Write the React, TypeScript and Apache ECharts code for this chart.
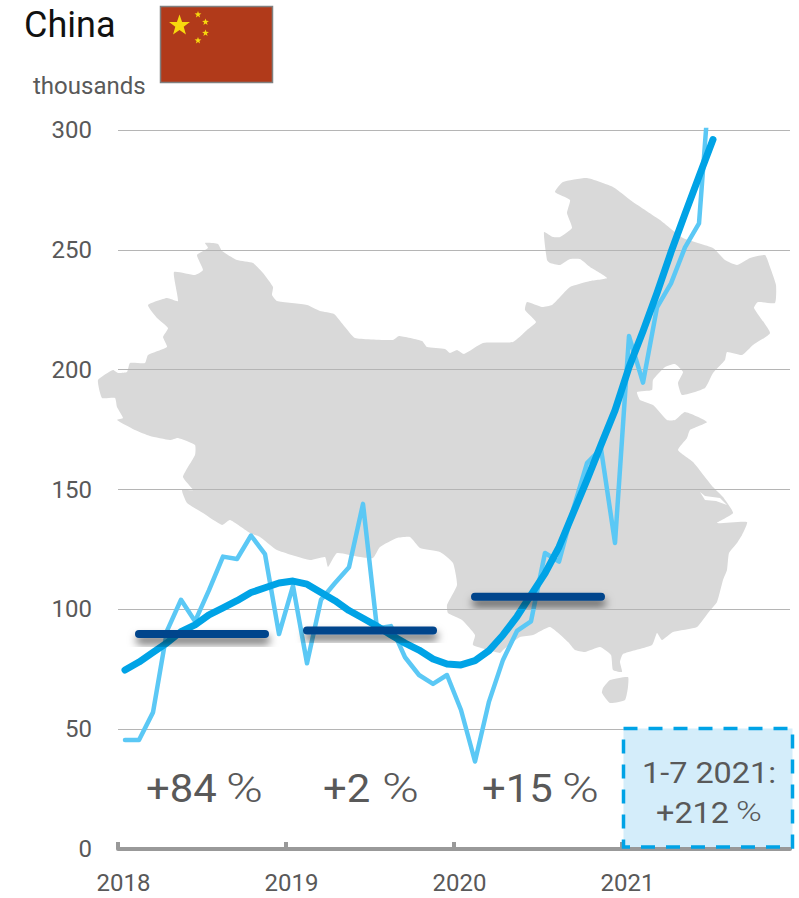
import React, { useEffect, useRef } from "react";
import * as echarts from "echarts";

const months: string[] = [
  "2018-01","2018-02","2018-03","2018-04","2018-05","2018-06","2018-07","2018-08","2018-09","2018-10","2018-11","2018-12",
  "2019-01","2019-02","2019-03","2019-04","2019-05","2019-06","2019-07","2019-08","2019-09","2019-10","2019-11","2019-12",
  "2020-01","2020-02","2020-03","2020-04","2020-05","2020-06","2020-07","2020-08","2020-09","2020-10","2020-11","2020-12",
  "2021-01","2021-02","2021-03","2021-04","2021-05","2021-06","2021-07","2021-08","2021-09","2021-10","2021-11","2021-12",
];
const monthly: number[] = [
  45.5,45.5,57,91,104,95,108,122,121,130.8,123,89.7,
  109.8,77.5,104,111,117.6,144,92,93,80,72.6,68.9,72.6,
  58,36.5,61.5,78.9,91,95,123.5,119.9,141.5,161,167,127.7,
  214,194.6,226,236,251,261,339,
];
const trend: number[] = [
  74.7,78,82,86,90.7,93.5,97.7,100.6,103.6,107,109,111,
  111.8,110.5,107,103.6,99.5,96.3,93,89.3,85.9,83,79.3,77.2,
  76.8,78.6,82.8,89.3,97,106,115,126,140,154,168.6,183,
  201,216,232,249,265,280.6,296,
];
// [first month index, last month index, yearly average]
const yearlyAverages: number[][] = [
  [1, 10, 89.7],
  [13, 22, 91.2],
  [25, 34, 105.2],
];

const yTicks = { min: 0, max: 300, interval: 50 };
const growth = [
  { value: "+84", x: 146, pct: 226 },
  { value: "+2", x: 323, pct: 382 },
  { value: "+15", x: 482, pct: 562 },
];

const mainland: number[][] = [
  [205,243],[218,244],[222,251],[237,260],[253,263],[263,273],[273,287],[272,295],[277,301],[307,305],[320,311],[334,314],
  [345,327],[355,338],[393,340],[399,336],[422,341],[427,347],[445,349],[450,353],[457,350],[464,354],[483,343],[513,342],
  [527,330],[536,322],[525,310],[527,302],[542,307],[552,305],[560,297],[570,287],[590,281],[607,278],[590,267],[580,259],
  [570,259],[560,265],[550,263],[547,260],[544,232],[553,237],[560,237],[572,228],[567,213],[570,200],[555,192],[563,182],
  [587,178],[613,187],[633,202],[660,220],[683,238],[713,248],[725,260],[737,265],[750,258],[765,255],[770,267],[776,285],
  [775,303],[758,302],[754,308],[770,333],[753,345],[742,355],[727,352],[725,360],[713,373],[705,388],[682,395],[678,383],
  [683,372],[675,364],[665,367],[653,380],[652,390],[637,392],[640,400],[653,405],[667,420],[675,420],[685,412],[707,422],
  [690,430],[687,438],[678,450],[693,462],[713,487],[723,497],[733,513],[717,523],[747,522],[742,535],[737,543],
  [729,553],[727,570],[723,580],[717,602],[708,613],[697,627],[673,632],[662,640],[657,633],[652,645],[623,654],[620,662],
  [622,672],[613,670],[611,655],[600,647],[585,652],[575,650],[568,642],[550,627],[533,635],[520,637],[503,650],[500,653],
  [473,645],[475,635],[462,620],[448,613],[447,605],[457,585],[453,563],[440,552],[420,548],[410,537],[397,538],[380,547],
  [373,558],[360,557],[337,553],[328,567],[325,557],[310,560],[277,550],[260,537],[250,533],[230,520],[222,525],[203,513],
  [187,503],[182,490],[193,490],[183,477],[195,455],[195,445],[178,438],[170,440],[150,436],[135,430],[117,420],[123,418],
  [117,407],[115,398],[102,398],[98,380],[113,370],[118,373],[127,372],[130,363],[145,363],[148,355],[167,347],[163,337],
  [168,328],[157,318],[148,305],[167,298],[178,301],[174,272],[195,275],[203,270],[197,255],[208,248],
];
const hainan: number[][] = [[603,688],[610,680],[628,677],[628,687],[625,700],[610,703],[602,693]];
const yangtze: number[][] = [[700,492],[705,496],[720,498],[727,505],[716,501],[705,500]];

const TEXT = "#595959";
const FONT = "Roboto";

function star(cx: number, cy: number, r: number): number[][] {
  const pts: number[][] = [];
  for (let i = 0; i < 10; i++) {
    const rad = i % 2 === 0 ? r : r * 0.4;
    const a = -Math.PI / 2 + (i * Math.PI) / 5;
    pts.push([cx + rad * Math.cos(a), cy + rad * Math.sin(a)]);
  }
  return pts;
}

export default function App() {
  const ref = useRef<HTMLDivElement>(null);
  useEffect(() => {
    document.body.style.margin = "0";
    const chart = echarts.init(ref.current!, undefined, { renderer: "svg" });
    const starEls = [
      [179.5, 25.5, 11],
      [198, 14.5, 3.6],
      [205.5, 22, 3.6],
      [205.5, 33, 3.6],
      [198, 40.5, 3.6],
    ].map(([x, y, r]) => ({
      type: "polygon",
      z: 10,
      shape: { points: star(x, y, r) },
      style: { fill: "#f7d80e" },
    }));
    const mapEls = [mainland, hainan].map((points) => ({
      type: "polygon",
      z: -1,
      silent: true,
      shape: { points, smooth: 0.15 },
      style: { fill: "#d9d9d9" },
    }));
    chart.setOption({
      animation: false,
      title: {
        text: "China",
        left: 19,
        top: 2,
        textStyle: { fontFamily: FONT, fontSize: 36, fontWeight: 400, color: "#111111" },
      },
      grid: { left: 118, right: 9, top: 130, bottom: 49 },
      xAxis: {
        type: "category",
        data: months,
        boundaryGap: true,
        axisLine: { show: true, lineStyle: { color: "#999999", width: 4 } },
        axisTick: { show: true, inside: true, interval: 11, length: 7, lineStyle: { color: "#999999", width: 4 } },
        axisLabel: {
          interval: 11,
          margin: 22,
          fontFamily: FONT,
          fontSize: 24,
          color: TEXT,
          padding: [0, 3, 0, 0],
          formatter: (v: string) => v.slice(0, 4),
        },
        splitLine: { show: false },
      },
      yAxis: {
        type: "value",
        ...yTicks,
        axisLine: { show: false },
        axisTick: { show: false },
        axisLabel: { margin: 26, fontFamily: FONT, fontSize: 24, color: TEXT, padding: [0, 0, 3, 0] },
        splitLine: { show: true, lineStyle: { color: "#b5b5b5", width: 1 } },
      },
      series: [
        {
          type: "line",
          name: "monthly",
          data: monthly,
          symbol: "none",
          z: 3,
          lineStyle: { color: "#5bc8f5", width: 4.5, cap: "round", join: "round" },
        },
        {
          type: "line",
          name: "trend",
          data: trend,
          symbol: "none",
          z: 4,
          lineStyle: { color: "#00a3e6", width: 7, cap: "round", join: "round" },
        },
        {
          type: "custom",
          name: "yearly average",
          data: yearlyAverages,
          z: 5,
          clip: false,
          encode: { x: [0, 1], y: 2 },
          renderItem: (_p: any, api: any) => {
            const a = api.coord([api.value(0), api.value(2)]);
            const b = api.coord([api.value(1), api.value(2)]);
            return {
              type: "rect",
              shape: { x: a[0] - 4, y: a[1] - 4, width: b[0] - a[0] + 8, height: 8, r: 4 },
              style: {
                fill: "#00448c",
                shadowColor: "rgba(0,0,0,0.6)",
                shadowBlur: 8,
                shadowOffsetX: 1,
                shadowOffsetY: 6,
              },
            };
          },
        },
      ],
      graphic: {
        elements: [
          ...mapEls,
          { type: "polygon", z: -1, silent: true, shape: { points: yangtze }, style: { fill: "#ffffff" } },
          {
            type: "rect",
            z: 9,
            shape: { x: 160.5, y: 6.5, width: 112, height: 76 },
            style: { fill: "#b13a1a", stroke: "#808080", lineWidth: 1.5 },
          },
          ...starEls,
          {
            type: "text",
            x: 33,
            y: 74,
            style: { text: "thousands", fontFamily: FONT, fontSize: 24, fill: TEXT },
          },
          ...growth.flatMap((g) => [
            {
              type: "text",
              x: g.x,
              y: 789,
              scaleX: 1.1,
              style: { text: g.value, fontFamily: FONT, fontSize: 38, fill: TEXT, verticalAlign: "middle" },
            },
            {
              type: "text",
              x: g.pct,
              y: 788,
              scaleX: 1.25,
              style: { text: "%", fontFamily: FONT, fontSize: 40, fontWeight: 300, fill: TEXT, verticalAlign: "middle" },
            },
          ]),
          {
            type: "rect",
            z: 20,
            shape: { x: 623.5, y: 728.5, width: 169, height: 118.5 },
            style: { fill: "#d4edfa", stroke: "#00a3e6", lineWidth: 3.5, lineDash: [14, 11] },
          },
          {
            type: "text",
            z: 21,
            x: 642,
            y: 773,
            scaleX: 1.08,
            style: { text: "1-7 2021:", fontFamily: FONT, fontSize: 30, fill: TEXT, verticalAlign: "middle" },
          },
          {
            type: "text",
            z: 21,
            x: 656,
            y: 813,
            scaleX: 1.08,
            style: { text: "+212", fontFamily: FONT, fontSize: 30, fill: TEXT, verticalAlign: "middle" },
          },
          {
            type: "text",
            z: 21,
            x: 736,
            y: 812,
            scaleX: 1.25,
            style: { text: "%", fontFamily: FONT, fontSize: 28, fontWeight: 300, fill: TEXT, verticalAlign: "middle" },
          },
        ],
      },
    });
    return () => chart.dispose();
  }, []);
  return <div ref={ref} style={{ position: "absolute", left: 0, top: 0, width: 799, height: 898 }} />;
}
